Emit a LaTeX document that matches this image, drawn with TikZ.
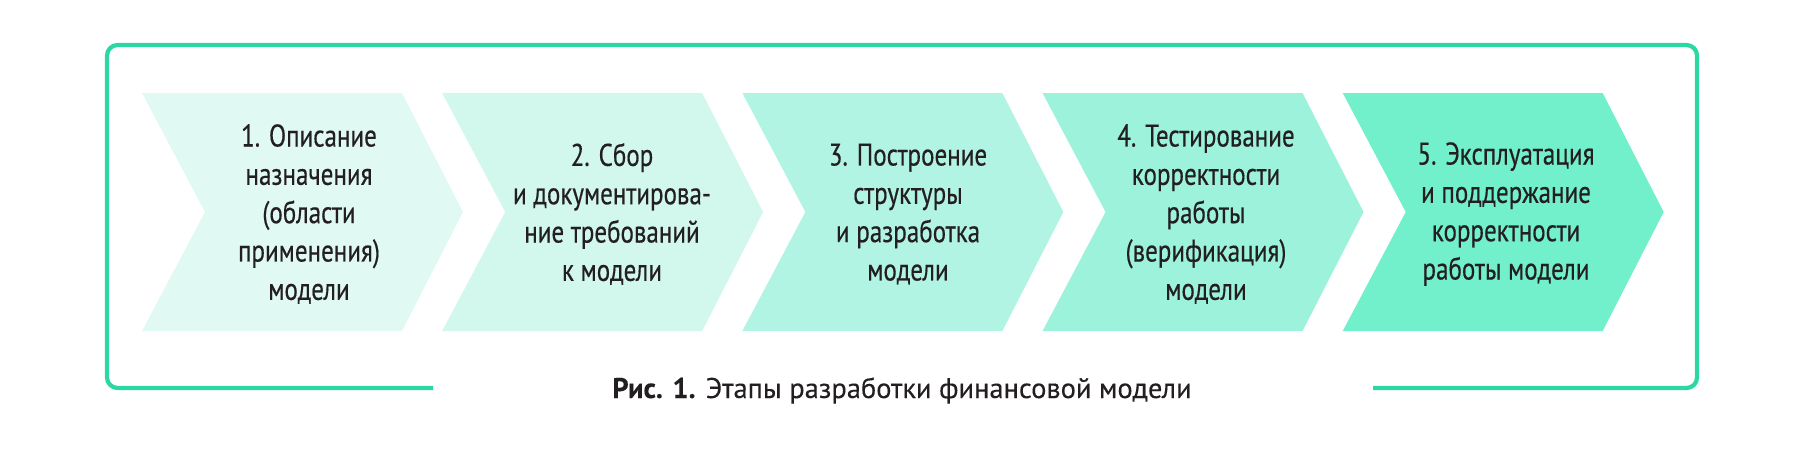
\documentclass[tikz,border=0pt]{standalone}
\usepackage{fontspec}
\setmainfont[FakeStretch=0.8, FakeBold=0.4]{PT Sans}
\newfontfamily\capfont[FakeBold=0.2]{PT Sans}
\definecolor{framegreen}{HTML}{2CD8A2}
\definecolor{stA}{HTML}{E0FAF3}
\definecolor{stB}{HTML}{D2F8EE}
\definecolor{stC}{HTML}{B2F4E3}
\definecolor{stD}{HTML}{9CF2DB}
\definecolor{stE}{HTML}{72F0CB}
\definecolor{txt}{HTML}{231F20}
\begin{document}
\begin{tikzpicture}[x=0.01cm, y=-0.01cm, font=\fontsize{8.9}{10.9}\selectfont,
    stage/.style={align=center, text=txt, inner sep=0pt}]
    \useasboundingbox (0,0) rectangle (1800,451);
    % frame
    \draw[framegreen, line width=1.2pt, rounded corners=3pt] (433,388) -- (107,388) -- (107,45) -- (1697,45) -- (1697,388) -- (1373,388);

    % chevrons
    \foreach \i/\col in {0/stA,1/stB,2/stC,3/stD,4/stE} {
      \fill[\col, xshift=\i*3cm] (142,93) -- (402,93) -- (463,212) -- (402,331) -- (142,331) -- (205,212) -- cycle;
    }

    % stage texts
    \node[stage] (st1) at (309,214) {1. Описание\\назначения\\(области\\применения)\\модели};
    \node[stage] (st2) at (612,214) {2. Сбор\\и документирова-\\ние требований\\к модели};
    \node[stage] (st3) at (908,214) {3. Построение\\структуры\\и разработка\\модели};
    \node[stage] (st4) at (1206,214) {4. Тестирование\\корректности\\работы\\(верификация)\\модели};
    \node[stage] (st5) at (1506,214) {5. Эксплуатация\\и поддержание\\корректности\\работы модели};

    % caption
    \node[anchor=base, text=txt, inner sep=0pt, font=\capfont\fontsize{8.1}{9.7}\selectfont] (cap) at (902,398) {\textbf{Рис. 1.} Этапы разработки финансовой модели};
\end{tikzpicture}
\end{document}
